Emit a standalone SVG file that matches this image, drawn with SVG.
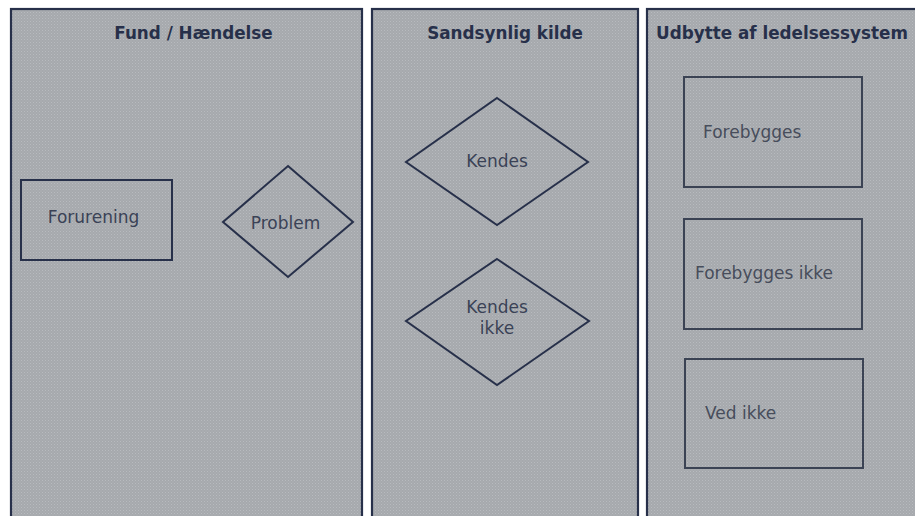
<svg xmlns="http://www.w3.org/2000/svg" width="915" height="516" viewBox="0 0 915 516">
<defs>
<pattern id="dots" width="3" height="3" patternUnits="userSpaceOnUse">
<rect width="3" height="3" fill="#a6a9ad"/>
<rect x="0" y="0" width="1" height="1" fill="#b8bbbf"/>
<rect x="1.5" y="1.5" width="1" height="1" fill="#b3b6ba"/>
</pattern>
</defs>
<style>
.lane{fill:url(#dots);stroke:#27304a;stroke-width:2.2}
.hdr{font-family:"DejaVu Sans",Verdana,sans-serif;font-weight:bold;font-size:16.8px;fill:#27304a}
.shape{fill:none;stroke:#27304a;stroke-width:2}
.shape2{fill:none;stroke:#3b4354;stroke-width:2}
.lbl{font-family:"DejaVu Sans",Verdana,sans-serif;font-size:17px;fill:#3a4256}
.lbl2{font-family:"DejaVu Sans",Verdana,sans-serif;font-size:17px;fill:#474d5b}
</style>
<rect width="915" height="516" fill="#ffffff"/>
<g id="lane-fund">
<rect class="lane" x="11" y="9" width="351" height="530"/>
<text class="hdr" x="193.5" y="39" text-anchor="middle">Fund / Hændelse</text>
</g>
<g id="lane-kilde">
<rect class="lane" x="372" y="9" width="266" height="530"/>
<text class="hdr" x="505" y="39" text-anchor="middle">Sandsynlig kilde</text>
</g>
<g id="lane-udbytte">
<rect class="lane" x="647" y="9" width="280" height="530"/>
<text class="hdr" x="782" y="39" text-anchor="middle">Udbytte af ledelsessystem</text>
</g>
<g id="node-forurening">
<rect class="shape" x="21" y="180" width="151" height="80"/>
<text class="lbl" x="93.5" y="223" text-anchor="middle">Forurening</text>
</g>
<g id="node-problem">
<polygon class="shape" points="288,166 353,222 288,277 223,222"/>
<text class="lbl" x="285.5" y="229" text-anchor="middle">Problem</text>
</g>
<g id="node-kendes">
<polygon class="shape" points="497,98 588,162 497,225 406,162"/>
<text class="lbl" x="497" y="167" text-anchor="middle">Kendes</text>
</g>
<g id="node-kendes-ikke">
<polygon class="shape" points="497,259 589,321 497,385 406,321"/>
<text class="lbl" x="497" y="313" text-anchor="middle">Kendes</text>
<text class="lbl" x="497" y="334" text-anchor="middle">ikke</text>
</g>
<g id="node-forebygges">
<rect class="shape2" x="684" y="77" width="178" height="110"/>
<text class="lbl2" x="703" y="138">Forebygges</text>
</g>
<g id="node-forebygges-ikke">
<rect class="shape2" x="684" y="219" width="178" height="110"/>
<text class="lbl2" x="764" y="279" text-anchor="middle">Forebygges ikke</text>
</g>
<g id="node-ved-ikke">
<rect class="shape2" x="685" y="359" width="178" height="109"/>
<text class="lbl2" x="705" y="419">Ved ikke</text>
</g>
<g id="connectors"></g>
</svg>
